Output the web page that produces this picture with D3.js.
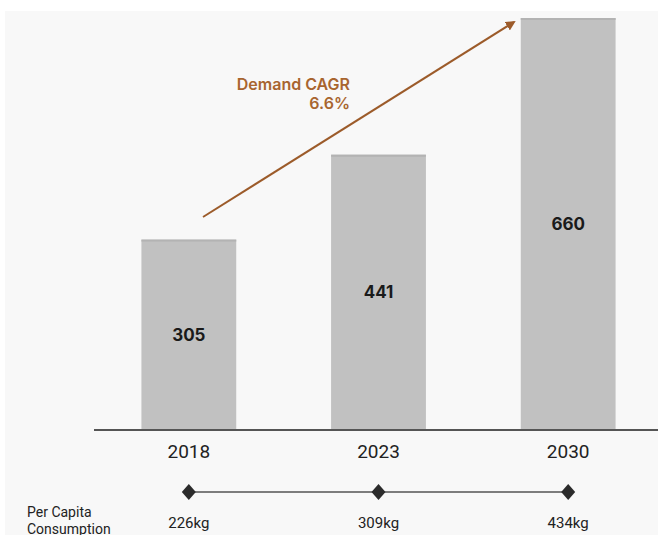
<!doctype html>
<html>
<head>
<meta charset="utf-8">
<script src="https://d3js.org/d3.v7.min.js"></script>
<style>
  body { margin: 0; background: #fff; }
  svg { display: block; font-family: Roboto, "Liberation Sans", sans-serif; }
</style>
</head>
<body>
<svg width="658" height="535" class="chart"></svg>
<script>
// data
var years = ["2018", "2023", "2030"];
var demand = [305, 441, 660];
var perCapita = ["226kg", "309kg", "434kg"];
var cagrLines = ["Demand CAGR", "6.6%"];

var svg = d3.select(".chart"),
    W = +svg.attr("width"),
    H = +svg.attr("height"),
    baseY = 430;

// light panel
svg.append("rect")
   .attr("x", 5).attr("y", 11)
   .attr("width", W - 5).attr("height", H - 11)
   .attr("fill", "#f8f8f8");

var x = d3.scaleBand().domain(years).range([94, 663]).paddingInner(0.5).paddingOuter(0.25);
var y = d3.scaleLinear().domain([0, 660]).range([baseY, 18]);

// bars
var bars = svg.append("g").selectAll("g")
   .data(years)
   .enter().append("g");

bars.append("rect")
   .attr("x", function(d) { return x(d); })
   .attr("y", function(d, i) { return y(demand[i]); })
   .attr("width", x.bandwidth())
   .attr("height", function(d, i) { return baseY - y(demand[i]); })
   .attr("fill", "#c1c1c1");

// slightly darker top edge
bars.append("rect")
   .attr("x", function(d) { return x(d); })
   .attr("y", function(d, i) { return y(demand[i]); })
   .attr("width", x.bandwidth())
   .attr("height", 2)
   .attr("fill", "#b3b3b3");

bars.append("text")
   .attr("x", function(d) { return x(d) + x.bandwidth() / 2; })
   .attr("y", function(d, i) { return (y(demand[i]) + baseY) / 2; })
   .attr("dy", "0.36em")
   .attr("text-anchor", "middle")
   .attr("font-family", "Inter, sans-serif")
   .attr("font-size", "17px")
   .attr("font-weight", "bold")
   .attr("fill", "#1a1a1a")
   .text(function(d, i) { return demand[i]; });

// x axis
var xAxis = svg.append("g")
   .attr("transform", "translate(0," + baseY + ")")
   .call(d3.axisBottom(x).tickSize(0).tickPadding(15));
xAxis.select(".domain").remove();
xAxis.append("line")
   .attr("x1", 94).attr("x2", W)
   .attr("stroke", "#555").attr("stroke-width", 2);
xAxis.selectAll(".tick text")
   .attr("font-family", "Roboto, sans-serif")
   .attr("font-size", "19px")
   .attr("fill", "#222");

// arrow
var defs = svg.append("defs");
defs.append("marker")
   .attr("id", "head")
   .attr("viewBox", "0 0 10 10")
   .attr("refX", 8).attr("refY", 5)
   .attr("markerWidth", 5).attr("markerHeight", 5)
   .attr("orient", "auto")
   .append("path")
   .attr("d", "M0,0L10,5L0,10z")
   .attr("fill", "#9c5b2a");

svg.append("line")
   .attr("x1", 203).attr("y1", 217)
   .attr("x2", 514).attr("y2", 22)
   .attr("stroke", "#9c5b2a")
   .attr("stroke-width", 2)
   .attr("marker-end", "url(#head)");

svg.append("g").selectAll("text")
   .data(cagrLines)
   .enter().append("text")
   .attr("x", 350)
   .attr("y", function(d, i) { return 89.5 + i * 19.5; })
   .attr("text-anchor", "end")
   .attr("font-family", "Inter, sans-serif")
   .attr("font-size", "16px")
   .attr("font-weight", 600)
   .attr("fill", "#a8652f")
   .text(function(d) { return d; });

// per capita row
var rowY = 492;
var cx = function(d) { return x(d) + x.bandwidth() / 2; };

svg.append("line")
   .attr("x1", cx(years[0])).attr("x2", cx(years[years.length - 1]))
   .attr("y1", rowY).attr("y2", rowY)
   .attr("stroke", "#555").attr("stroke-width", 1.5);

svg.append("g").selectAll("path")
   .data(years)
   .enter().append("path")
   .attr("d", function(d) {
       var c = cx(d);
       return "M" + c + "," + (rowY - 8) + "L" + (c + 7) + "," + rowY +
              "L" + c + "," + (rowY + 8) + "L" + (c - 7) + "," + rowY + "Z";
   })
   .attr("fill", "#2b2b2b");

svg.append("g").selectAll("text")
   .data(years)
   .enter().append("text")
   .attr("x", cx)
   .attr("y", 528)
   .attr("text-anchor", "middle")
   .attr("font-size", "15px")
   .attr("fill", "#222")
   .text(function(d, i) { return perCapita[i]; });

svg.append("text")
   .attr("x", 27).attr("y", 517)
   .attr("font-size", "14px")
   .attr("fill", "#222")
   .text("Per Capita");
svg.append("text")
   .attr("x", 27).attr("y", 534)
   .attr("font-size", "14px")
   .attr("fill", "#222")
   .text("Consumption");
</script>
</body>
</html>
